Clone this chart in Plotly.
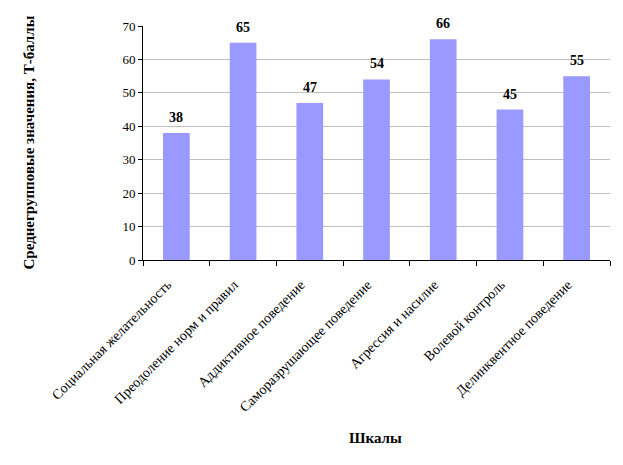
import plotly.graph_objects as go

categories = ["Социальная желательность", "Преодоление норм и правил", "Аддиктивное поведение",
              "Саморазрушающее поведение", "Агрессия и насилие", "Волевой контроль",
              "Делинквентное поведение"]
values = [38, 65, 47, 54, 66, 45, 55]
y_title = "Среднегрупповые значения, Т-баллы"
x_title = "Шкалы"

font = "Liberation Serif, Times New Roman, serif"

W, H = 615, 457
L, R, T, B = 135, 13, 18, 205
pw, ph = W - L - R, H - T - B

fig = go.Figure(go.Bar(
    x=categories, y=values,
    marker=dict(color="#9999FF", line=dict(width=0)),
))

annotations = [
    dict(x=c, y=v, xref="x", yref="y", text="<b>%d</b>" % v, showarrow=False,
         yanchor="bottom", yshift=6, font=dict(size=14, family=font, color="black"))
    for c, v in zip(categories, values)
]
annotations += [
    dict(text="<b>" + y_title + "</b>", xref="paper", yref="paper",
         x=(20 - L) / pw, y=(H - B - 134.5) / ph,
         textangle=-90, showarrow=False, font=dict(size=15, family=font),
         xanchor="center", yanchor="middle"),
    dict(text="<b>" + x_title + "</b>", xref="paper", yref="paper",
         x=(367 - L) / pw, y=-(430 - (H - B)) / ph,
         showarrow=False, font=dict(size=15, family=font),
         xanchor="center", yanchor="middle"),
]

fig.update_layout(
    width=W, height=H,
    margin=dict(l=L, r=R, t=T, b=B, autoexpand=False),
    paper_bgcolor="white", plot_bgcolor="white",
    bargap=0.6, showlegend=False,
    font=dict(family=font, size=12, color="black"),
    xaxis=dict(tickangle=-45, showline=True, linecolor="black", linewidth=1,
               ticks="outside", ticklen=5, tickcolor="black", automargin=False,
               tickson="boundaries", tickfont=dict(size=14, family=font),
               ticklabelstandoff=10, ticklabelshift=-9),
    yaxis=dict(range=[0, 70], dtick=10, showline=True, linecolor="black", linewidth=1,
               ticks="outside", ticklen=4, tickcolor="black", automargin=False,
               showgrid=True, gridcolor="#C0C0C0", gridwidth=1, zeroline=False,
               tickfont=dict(size=13, family=font)),
    annotations=annotations,
)

fig.write_html("out.html")
